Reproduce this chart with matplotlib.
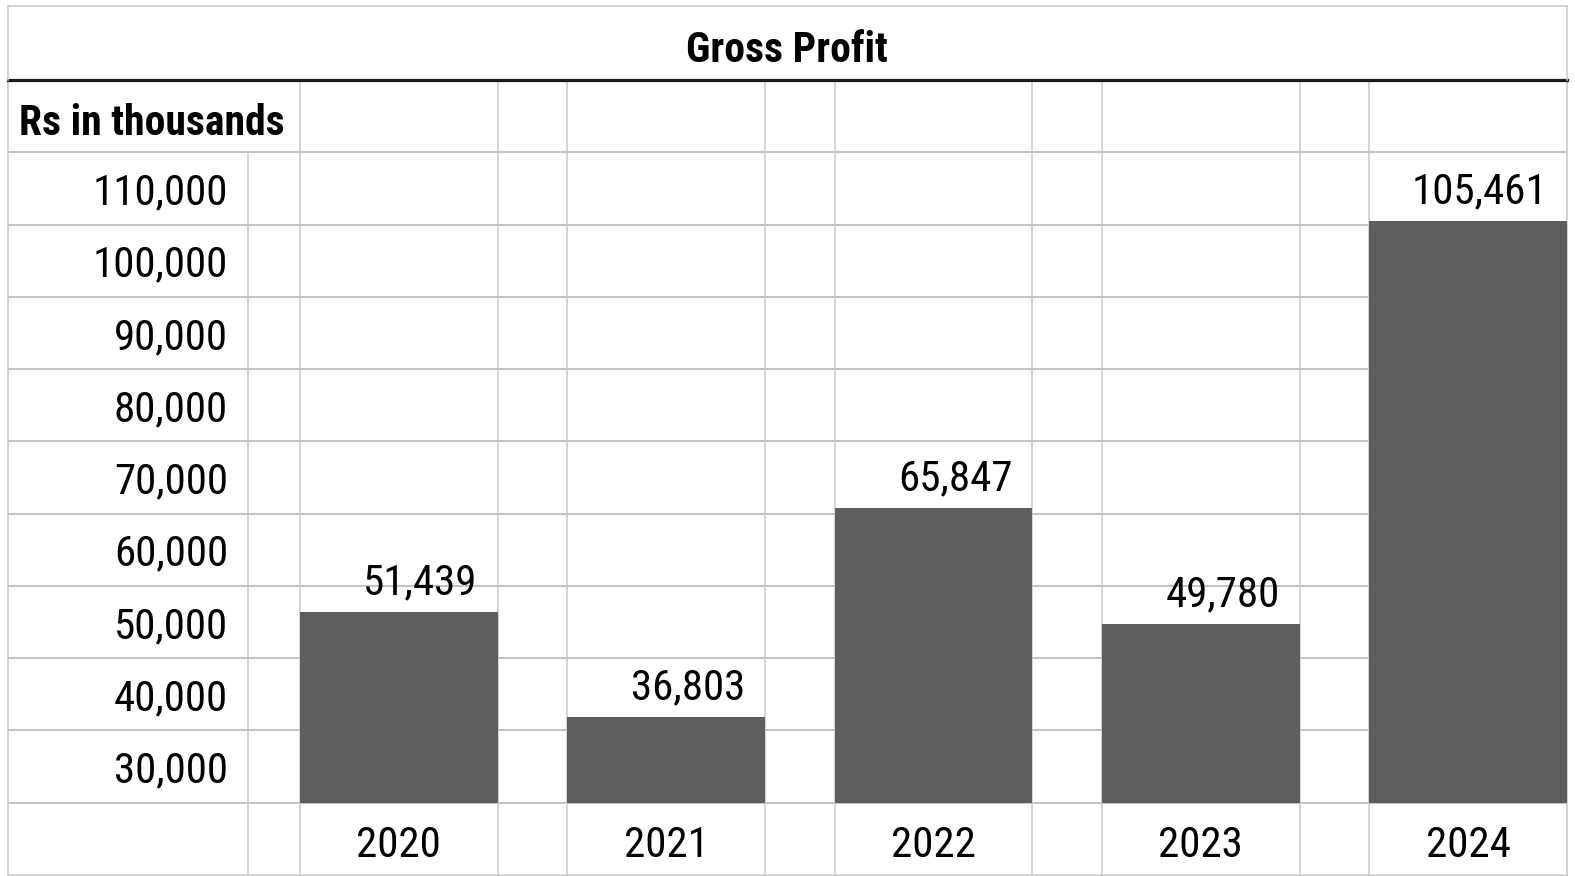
import numpy as np
import matplotlib.pyplot as plt
from matplotlib.lines import Line2D

# data
years = ['2020', '2021', '2022', '2023', '2024']
gross_profit = [51439, 36803, 65847, 49780, 105461]
y_ticks = [30000, 40000, 50000, 60000, 70000, 80000, 90000, 100000, 110000]

# narrow font like the spreadsheet one, if there is one
plt.rcParams['font.family'] = ['Roboto Condensed', 'Liberation Sans Narrow', 'Liberation Sans']

bar_color = '#5e5e5e'
grid_color = '#c9c9c9'
hgrid_color = '#bdbdbd'
base = 25000          # bottom of the "30,000" row
row = 10000           # one spreadsheet row
w = 0.74
fs = 31
fs_bold = 30

fig = plt.figure(figsize=(15.75, 8.76), dpi=100)
W, H = 1575, 876
ax = fig.add_axes([8 / W, 1 / H, 1559 / W, 795 / H])

x = np.arange(len(years))
ax.bar(x, np.array(gross_profit) - base, bottom=base, width=w,
       color=bar_color, zorder=3)

ax.set_xlim(-1.462, len(years) - 1 + w / 2)
ax.set_ylim(base - row, y_ticks[-1] + row * 1.5)

# horizontal grid rows
for y in np.arange(base, y_ticks[-1] + row, row):
    ax.axhline(y, color=hgrid_color, lw=1.3, zorder=1)

# vertical grid columns (bar edges and the label column)
edges = np.concatenate([x - w / 2, x + w / 2])
ax.vlines(edges, base - row, y_ticks[-1] + row * 1.5, color=grid_color, lw=1.1, zorder=1)
ax.vlines(-0.565, base - row, y_ticks[-1] + row / 2, color=grid_color, lw=1.1, zorder=1)

# y labels, right aligned inside the first column
ax.set_yticks(y_ticks)
ax.set_yticklabels([f'{v:,}' for v in y_ticks])
ax.tick_params(axis='y', length=0, pad=-158.4, labelsize=fs)
ax.set_xticks([])

# value labels, right aligned in their cell like the spreadsheet
for i, v in enumerate(gross_profit):
    ax.annotate(f'{v:,}', (x[i] + w / 2, v), xytext=(-14.4, 21),
                textcoords='offset points', ha='right', va='center', fontsize=fs)

# years in the bottom row
for i, yr in enumerate(years):
    ax.annotate(yr, (x[i], base - row / 2), xytext=(0, -5), textcoords='offset points',
                ha='center', va='center', fontsize=fs)

ax.annotate('Rs in thousands', (-1.42, y_ticks[-1] + row), xytext=(0, -5),
            textcoords='offset points', ha='left', va='center',
            fontsize=fs_bold, fontweight='bold')

for s in ['left', 'right', 'bottom']:
    ax.spines[s].set_color(grid_color)
    ax.spines[s].set_linewidth(1.1)
ax.spines['top'].set_color('#1a1a1a')
ax.spines['top'].set_linewidth(2.3)

# title row above
fig.text(787 / W, 1 - 50 / H, 'Gross Profit', ha='center', va='center',
         fontsize=fs_bold, fontweight='bold')
fig.add_artist(Line2D([8 / W, 1567 / W], [1 - 6 / H, 1 - 6 / H], color=grid_color, lw=1.1))
fig.add_artist(Line2D([8 / W, 8 / W], [1 - 6 / H, 1 - 80 / H], color=grid_color, lw=1.1))
fig.add_artist(Line2D([1567 / W, 1567 / W], [1 - 6 / H, 1 - 80 / H], color=grid_color, lw=1.1))

fig.savefig('out.png', dpi=100)
